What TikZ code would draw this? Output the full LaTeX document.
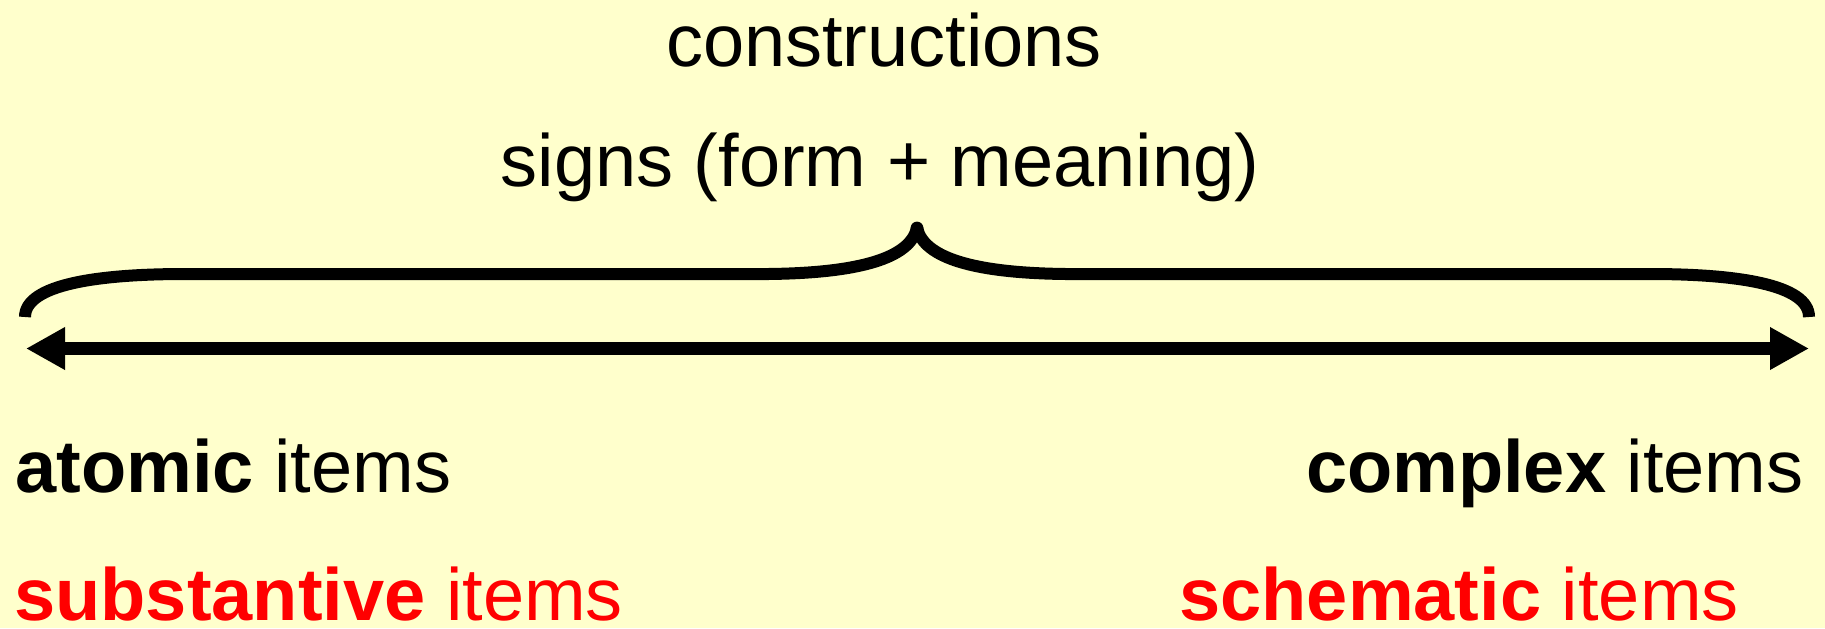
\documentclass[tikz,border=0pt]{standalone}
\usepackage{fontspec}
\setmainfont{Liberation Sans}
\usetikzlibrary{arrows.meta, positioning}
\definecolor{paper}{HTML}{FFFFCC}
\definecolor{hot}{HTML}{FF0000}

\begin{document}
\begin{tikzpicture}[
    x=0.5pt, y=-0.5pt,
    lbl/.style={inner sep=0pt, font=\fontsize{37}{44}\selectfont},
    brace/.style={line width=6pt, line cap=butt, line join=round},
    twoway/.style={line width=6.5pt, {Triangle[length=19.5pt,width=20pt]}-{Triangle[length=19.5pt,width=20pt]}}
]
% background
\fill[paper] (0,0) rectangle (1825,628);
\useasboundingbox (0,0) rectangle (1825,628);

% headings
\node[lbl, anchor=base] (cons) at (884,66) {constructions};
\node[lbl, anchor=base] (signs) at (880,186) {signs (form + meaning)};

% brace
\coordinate (tip) at (917,228);
\draw[brace] (25,317) .. controls (25,284) and (100,274) .. (185,274) -- (768,274)
    .. controls (860,273) and (910,258) .. (tip);
\draw[brace] (tip) .. controls (924,258) and (974,273) .. (1066,274) -- (1650,274)
    .. controls (1735,274) and (1809,284) .. (1809,317);
\fill (tip) circle (3.2pt);

% scale
\coordinate (lend) at (26,348.5);
\coordinate (rend) at (1809,348.5);
\draw[twoway] (lend) -- (rend);

% poles
\node[lbl, anchor=base west] (atom) at (15,492) {\textbf{atomic} items};
\node[lbl, anchor=base east] (cplx) at (1804,492) {\textbf{complex} items};
\node[lbl, anchor=base west, text=hot] (subst) at (14,620) {\textbf{substantive} items};
\node[lbl, anchor=base west, text=hot] (schem) at (1179,620) {\textbf{schematic} items};
\end{tikzpicture}
\end{document}
